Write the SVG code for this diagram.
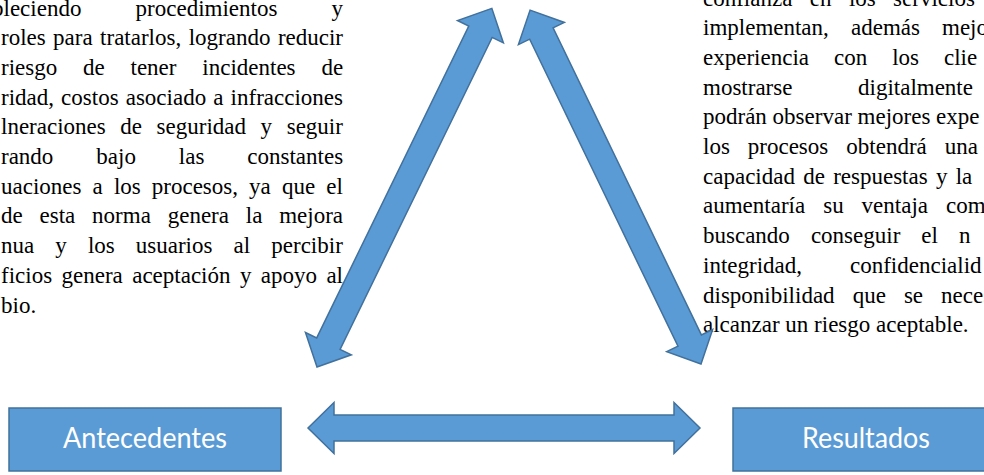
<svg xmlns="http://www.w3.org/2000/svg" width="984" height="475" viewBox="0 0 984 475">
  <style>
    .body { font-family: "Liberation Serif", "Times New Roman", serif; font-size: 23px; fill: #000; }
    .label { font-family: Lato, "Open Sans", sans-serif; font-size: 28px; fill: #fff; text-anchor: middle; }
    .box { fill: #5B9BD5; stroke: #41719C; stroke-width: 1.5; }
    .arrow { fill: #5B9BD5; stroke: #41719C; stroke-width: 1.5; stroke-linejoin: miter; }
  </style>
  <rect width="984" height="475" fill="#fff"/>

  <!-- left paragraph (justified, right margin at x=343) -->
  <g id="texto-izquierdo" class="body">
    <text y="15.5"><tspan x="-8">bleciendo</tspan><tspan x="135.6">procedimientos</tspan><tspan x="331.5">y</tspan></text>
    <text y="45.2"><tspan x="1">roles</tspan><tspan x="53.1">para</tspan><tspan x="100.1">tratarlos,</tspan><tspan x="188.7">logrando</tspan><tspan x="277.9">reducir</tspan></text>
    <text y="74.9"><tspan x="1">riesgo</tspan><tspan x="83">de</tspan><tspan x="130.5">tener</tspan><tspan x="202.3">incidentes</tspan><tspan x="321.4">de</tspan></text>
    <text y="104.6"><tspan x="1">ridad,</tspan><tspan x="61.1">costos</tspan><tspan x="125.7">asociado</tspan><tspan x="213.3">a</tspan><tspan x="230.6">infracciones</tspan></text>
    <text y="134.3"><tspan x="1">lneraciones</tspan><tspan x="120.3">de</tspan><tspan x="156.6">seguridad</tspan><tspan x="260.6">y</tspan><tspan x="286.7">seguir</tspan></text>
    <text y="164"><tspan x="1">rando</tspan><tspan x="96.3">bajo</tspan><tspan x="178.8">las</tspan><tspan x="247.3">constantes</tspan></text>
    <text y="193.7"><tspan x="1">uaciones</tspan><tspan x="92.6">a</tspan><tspan x="113.9">los</tspan><tspan x="151.8">procesos,</tspan><tspan x="249.1">ya</tspan><tspan x="281.9">que</tspan><tspan x="326.2">el</tspan></text>
    <text y="223.4"><tspan x="1">de</tspan><tspan x="39.5">esta</tspan><tspan x="92.1">norma</tspan><tspan x="167.7">genera</tspan><tspan x="245.8">la</tspan><tspan x="279.2">mejora</tspan></text>
    <text y="253.1"><tspan x="1">nua</tspan><tspan x="55.3">y</tspan><tspan x="87.9">los</tspan><tspan x="135.8">usuarios</tspan><tspan x="233.6">al</tspan><tspan x="271.3">percibir</tspan></text>
    <text y="282.8"><tspan x="1">ficios</tspan><tspan x="61.5">genera</tspan><tspan x="132.2">aceptación</tspan><tspan x="239.9">y</tspan><tspan x="260.8">apoyo</tspan><tspan x="326.4">al</tspan></text>
    <text y="312.5" x="1">bio.</text>
  </g>

  <!-- right paragraph (starts at x=703, runs past the right edge) -->
  <g id="texto-derecho" class="body">
    <text y="5.5"><tspan x="703">confianza</tspan><tspan x="809.8">en</tspan><tspan x="848.9">los</tspan><tspan x="893.1">servicios</tspan></text>
    <text y="35.2"><tspan x="703">implementan,</tspan><tspan x="851">además</tspan><tspan x="942">mejo</tspan></text>
    <text y="64.9"><tspan x="703">experiencia</tspan><tspan x="834">con</tspan><tspan x="892.2">los</tspan><tspan x="944">clie</tspan></text>
    <text y="94.6"><tspan x="703">mostrarse</tspan><tspan x="858">digitalmente</tspan></text>
    <text y="124.3" x="703">podrán observar mejores expe</text>
    <text y="154"><tspan x="703">los</tspan><tspan x="747.8">procesos</tspan><tspan x="846.3">obtendrá</tspan><tspan x="944.8">una</tspan></text>
    <text y="183.7" x="703" word-spacing="2.5">capacidad de respuestas y la</text>
    <text y="213.4"><tspan x="703">aumentaría</tspan><tspan x="823.2">su</tspan><tspan x="861.6">ventaja</tspan><tspan x="946">com</tspan></text>
    <text y="243.1"><tspan x="703">buscando</tspan><tspan x="810.9">conseguir</tspan><tspan x="921.3">el</tspan><tspan x="958.9">n</tspan></text>
    <text y="272.8"><tspan x="703">integridad,</tspan><tspan x="850">confidencialid</tspan></text>
    <text y="302.5"><tspan x="703">disponibilidad</tspan><tspan x="852.7">que</tspan><tspan x="903.9">se</tspan><tspan x="941.1">neces</tspan></text>
    <text y="332.2" x="703">alcanzar un riesgo aceptable.</text>
  </g>

  <!-- double-headed block arrows: shaft 26 wide, heads 51 wide and 26 long -->
  <g id="conectores">
    <polygon class="arrow" transform="translate(308,428)"
      points="0,0 26,-25.5 26,-13 366,-13 366,-25.5 392,0 366,25.5 366,13 26,13 26,25.5"/>
    <polygon class="arrow" transform="translate(317,367) rotate(-64.01)"
      points="0,0 26,-25.5 26,-13 373,-13 373,-25.5 399,0 373,25.5 373,13 26,13 26,25.5"/>
    <polygon class="arrow" transform="translate(701,364) rotate(-115.78)"
      points="0,0 26,-25.5 26,-13 367,-13 367,-25.5 393,0 367,25.5 367,13 26,13 26,25.5"/>
  </g>

  <g id="antecedentes">
    <rect class="box" x="9" y="408" width="272" height="63"/>
    <text class="label" x="145" y="448" textLength="164" lengthAdjust="spacingAndGlyphs">Antecedentes</text>
  </g>

  <g id="resultados">
    <rect class="box" x="733" y="408" width="272" height="63"/>
    <text class="label" x="866" y="448" textLength="128" lengthAdjust="spacingAndGlyphs">Resultados</text>
  </g>
</svg>
